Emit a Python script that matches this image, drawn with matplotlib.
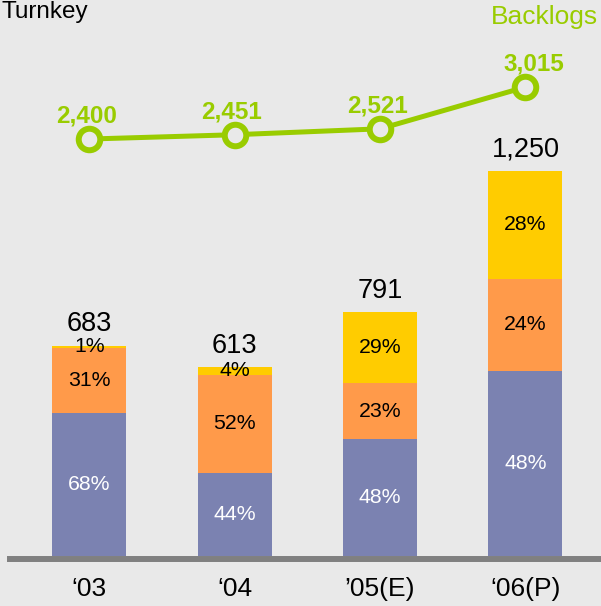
import matplotlib.pyplot as plt
import numpy as np

plt.rcParams['font.family'] = ['Liberation Sans', 'DejaVu Sans']

years = ['\u201803', '\u201804', '\u201905(E)', '\u201806(P)']
year_colors = ['black', 'black', '#101099', '#dd3a0a']
totals = [683, 613, 791, 1250]
# share of each segment, in percent (bottom, middle, top)
share_low = [68, 44, 48, 48]
share_mid = [31, 52, 23, 24]
share_top = [1, 4, 29, 28]
backlogs = [2400, 2451, 2521, 3015]

bg = '#e9e9e9'
c_low = '#7b82b1'
c_mid = '#ff9a4a'
c_top = '#ffcc00'
c_line = '#99cc00'

fig = plt.figure(figsize=(6.01, 6.06), dpi=100, facecolor=bg)
W, H = 601, 606
ax = fig.add_axes([10 / W, (H - 556) / H, 591 / W, 556 / H])
ax.set_facecolor(bg)

x = np.arange(len(years))
totals = np.array(totals, dtype=float)
low = totals * np.array(share_low) / 100
mid = totals * np.array(share_mid) / 100
top = totals * np.array(share_top) / 100

bw = 0.51
ax.bar(x, low, bw, color=c_low, zorder=3)
ax.bar(x, mid, bw, bottom=low, color=c_mid, zorder=3)
ax.bar(x, top, bw, bottom=low + mid, color=c_top, zorder=3)

for i in range(len(x)):
    ax.text(x[i], low[i] / 2, f'{share_low[i]}%', ha='center', va='center',
            color='white', fontsize=15.3, zorder=4)
    ax.text(x[i], low[i] + mid[i] / 2, f'{share_mid[i]}%', ha='center', va='center',
            color='black', fontsize=15.3, zorder=4)
    ax.text(x[i], low[i] + mid[i] + top[i] / 2, f'{share_top[i]}%', ha='center', va='center',
            color='black', fontsize=15.3, zorder=4)
    ax.annotate(f'{int(totals[i]):,}', (x[i], totals[i]), xytext=(0, 6),
                textcoords='offset points', ha='center', va='bottom',
                fontsize=19.5, color='black', zorder=4)

ax.set_xlim(-0.545, 3.52)
ax.set_ylim(0, 1805)

ax.set_xticks(x)
ax.set_xticklabels(years)
ax.tick_params(axis='x', length=0, pad=13, labelsize=19)
for lbl, c in zip(ax.get_xticklabels(), year_colors):
    lbl.set_color(c)
ax.set_yticks([])
for s in ['top', 'right', 'left']:
    ax.spines[s].set_visible(False)
ax.spines['bottom'].set_color('#808080')
ax.spines['bottom'].set_linewidth(4.3)
ax.spines['bottom'].set_position(('outward', 2.2))

# backlog line on its own scale
ax2 = ax.twinx()
ax2.plot(x, backlogs, color=c_line, lw=3.6, marker='o', ms=15.5,
         mfc=bg, mec=c_line, mew=4.3, zorder=5)
ax2.set_ylim(-2533, 4045)
ax2.set_yticks([])
for s in ['top', 'right', 'left', 'bottom']:
    ax2.spines[s].set_visible(False)
for i in range(len(x)):
    dx = 6 if i == len(x) - 1 else -2
    ax2.annotate(f'{backlogs[i]:,}', (x[i], backlogs[i]), xytext=(dx, 8),
                 textcoords='offset points', ha='center', va='bottom',
                 fontsize=17.5, fontweight='bold', color=c_line)

fig.text(2 / W, 1 - 1 / H, 'Turnkey', ha='left', va='top', fontsize=17.5, color='black')
fig.text(598 / W, 1 - 5 / H, 'Backlogs', ha='right', va='top', fontsize=19, color=c_line)

fig.savefig('out.png', dpi=100, facecolor=bg)
